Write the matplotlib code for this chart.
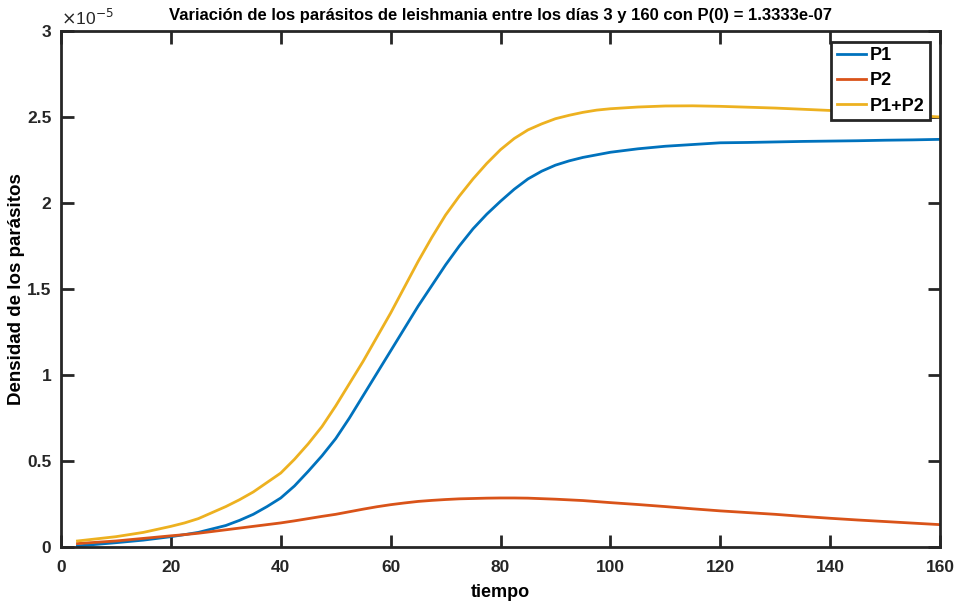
import matplotlib
matplotlib.use("Agg")
import matplotlib.pyplot as plt
from matplotlib.ticker import FuncFormatter, MultipleLocator

plt.rcParams['font.family'] = ['Liberation Sans', 'DejaVu Sans']

# time (days)
t = [3, 10, 15, 20, 22.5, 25, 27.5, 30, 32.5, 35, 37.5, 40, 42.5, 45, 47.5, 50,
     52.5, 55, 57.5, 60, 62.5, 65, 67.5, 70, 72.5, 75, 77.5, 80, 82.5, 85, 87.5,
     90, 92.5, 95, 97.5, 100, 105, 110, 115, 120, 125, 130, 135, 140, 145, 150,
     155, 160]
# densities in units of 1e-5
p1 = [0.006, 0.025, 0.04, 0.06, 0.072, 0.085, 0.105, 0.125, 0.155, 0.19, 0.235,
      0.285, 0.355, 0.44, 0.53, 0.63, 0.75, 0.88, 1.01, 1.14, 1.27, 1.40, 1.52,
      1.64, 1.75, 1.85, 1.935, 2.01, 2.08, 2.14, 2.185, 2.22, 2.245, 2.265, 2.28,
      2.295, 2.315, 2.33, 2.34, 2.35, 2.352, 2.355, 2.358, 2.36, 2.362, 2.365,
      2.367, 2.37]
p2 = [0.02, 0.035, 0.05, 0.065, 0.072, 0.08, 0.09, 0.10, 0.11, 0.12, 0.13, 0.14,
      0.152, 0.165, 0.178, 0.19, 0.205, 0.22, 0.234, 0.246, 0.256, 0.265, 0.271,
      0.276, 0.28, 0.282, 0.284, 0.285, 0.285, 0.284, 0.281, 0.278, 0.274, 0.27,
      0.264, 0.258, 0.247, 0.235, 0.222, 0.21, 0.2, 0.19, 0.178, 0.167, 0.157,
      0.148, 0.139, 0.13]
p12 = [0.035, 0.06, 0.085, 0.12, 0.14, 0.165, 0.20, 0.235, 0.275, 0.32, 0.375,
       0.43, 0.51, 0.60, 0.70, 0.82, 0.95, 1.08, 1.22, 1.36, 1.51, 1.66, 1.80,
       1.93, 2.04, 2.14, 2.23, 2.31, 2.375, 2.425, 2.46, 2.49, 2.51, 2.527, 2.54,
       2.548, 2.558, 2.564, 2.565, 2.562, 2.557, 2.552, 2.545, 2.538, 2.53, 2.52,
       2.51, 2.50]
scale = 1e-5

labels = ['P1', 'P2', 'P1+P2']
colors = ['#0072BD', '#D95319', '#EDB120']

fig = plt.figure(figsize=(9.57, 6.07), dpi=100)
ax = fig.add_axes([61/957, 1-547/607, (940-61)/957, (547-31)/607])

for y, lab, c in zip([p1, p2, p12], labels, colors):
    ax.plot(t, [v*scale for v in y], color=c, lw=2, label=lab)

ax.set_xlim(0, 160)
ax.set_ylim(0, 3e-5)
ax.xaxis.set_major_locator(MultipleLocator(20))
ax.yaxis.set_major_locator(MultipleLocator(0.5e-5))
ax.yaxis.set_major_formatter(FuncFormatter(lambda v, p: f"{v/scale:g}"))

edge = '#262626'
for s in ax.spines.values():
    s.set_linewidth(2)
    s.set_color(edge)
ax.tick_params(direction='in', length=9, width=2, top=True, right=True,
               colors=edge, labelsize=12.5)
ax.tick_params(axis='x', pad=9)
ax.tick_params(axis='y', pad=7)
for lbl in ax.get_xticklabels() + ax.get_yticklabels():
    lbl.set_fontweight('bold')

ax.text(0.0, 1.005, r'$\times$10$^{-5}$', transform=ax.transAxes, fontsize=12.5,
        ha='left', va='bottom', color=edge)

ax.set_title('Variación de los parásitos de leishmania entre los días 3 y 160 con P(0) = 1.3333e-07',
             fontsize=12, fontweight='bold', pad=8)
ax.set_xlabel('tiempo', fontsize=13, fontweight='bold')
ax.set_ylabel('Densidad de los parásitos', fontsize=13.5, fontweight='bold')
ax.xaxis.set_label_coords(0.5, -0.072)
ax.yaxis.set_label_coords(-0.041, 0.5)

leg = ax.legend(loc='upper right', bbox_to_anchor=(0.989, 0.979), fancybox=False,
                prop={'weight': 'bold', 'size': 13}, handlelength=1.6,
                borderpad=0.3, labelspacing=0.45, handletextpad=0.25,
                borderaxespad=0)
leg.get_frame().set_edgecolor(edge)
leg.get_frame().set_linewidth(2)
leg.get_frame().set_alpha(1)

fig.savefig('out.png', dpi=100)
